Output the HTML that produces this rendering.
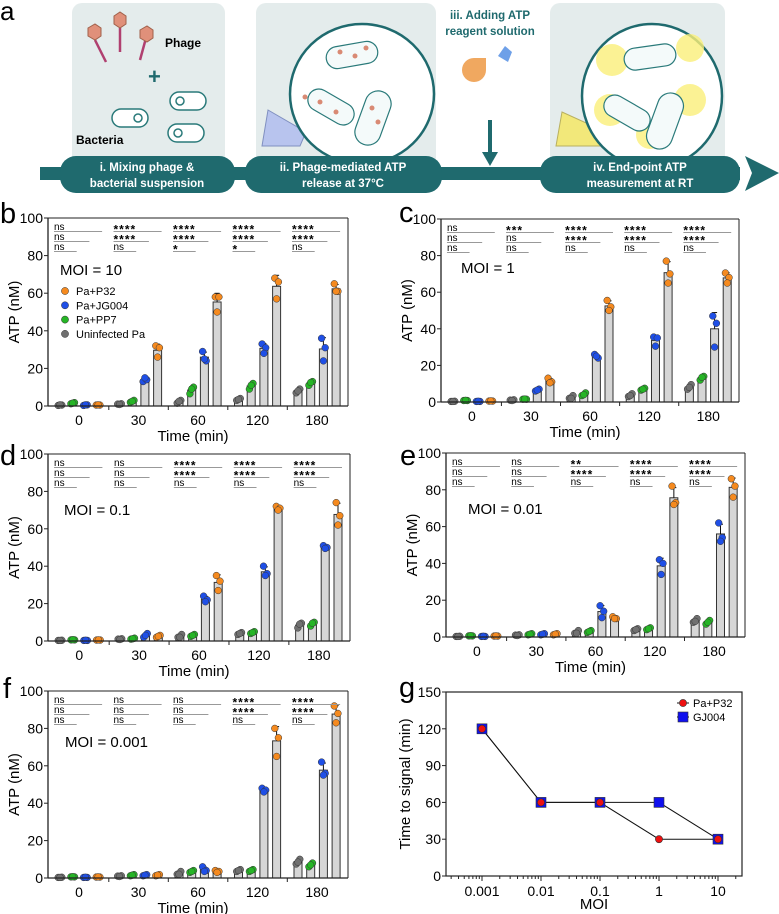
<!DOCTYPE html>
<html><head><meta charset="utf-8">
<style>
html,body{margin:0;padding:0;background:#fff;}
svg{display:block;font-family:"Liberation Sans",Arial,sans-serif;}
</style></head>
<body>
<svg id="fig" width="779" height="914" viewBox="0 0 779 914" xmlns="http://www.w3.org/2000/svg">
<g>
  <text x="0" y="20" font-size="26">a</text>
  <rect x="72" y="3" width="153" height="165" rx="10" fill="#e4ecec"/>
  <rect x="256" y="3" width="180" height="165" rx="10" fill="#e4ecec"/>
  <rect x="550" y="3" width="175" height="165" rx="10" fill="#e4ecec"/>
  <g>
    <line x1="95" y1="40" x2="106" y2="62" stroke="#b04070" stroke-width="2.5"/>
    <polygon points="88,28 95,24 101,28 101,36 95,40 88,36" fill="#e0907a" stroke="#a0604a"/>
    <line x1="120" y1="28" x2="120" y2="52" stroke="#b04070" stroke-width="2.5"/>
    <polygon points="114,16 120,12 126,16 126,24 120,28 114,24" fill="#e0907a" stroke="#a0604a"/>
    <line x1="146" y1="38" x2="140" y2="60" stroke="#b04070" stroke-width="2.5"/>
    <polygon points="140,30 147,26 153,30 153,38 147,42 140,38" fill="#e0907a" stroke="#a0604a"/>
  </g>
  <text x="165" y="47" font-size="12" font-weight="bold">Phage</text>
  <text x="148" y="84" font-size="22" font-weight="bold" fill="#1f6a6e">+</text>
  <g fill="#fff" stroke="#2a7a7a" stroke-width="1.5">
    <rect x="170" y="92" width="36" height="18" rx="9"/><circle cx="180" cy="101" r="4"/>
    <rect x="112" y="109" width="36" height="18" rx="9"/><circle cx="138" cy="118" r="4"/>
    <rect x="168" y="124" width="36" height="18" rx="9"/><circle cx="178" cy="133" r="4"/>
  </g>
  <text x="76" y="144" font-size="12" font-weight="bold">Bacteria</text>
  <polygon points="262,146 300,146 306,132 268,110" fill="#b8c4ee" stroke="#8090c0"/>
  <ellipse cx="362" cy="94" rx="72" ry="70" fill="#fff" stroke="#1f6a6e" stroke-width="2.5"/>
  <g fill="#f4fafa" stroke="#2a7a7a" stroke-width="1.2">
    <rect x="326" y="44" width="52" height="22" rx="11" transform="rotate(-10 352 55)"/>
    <rect x="360" y="90" width="26" height="56" rx="13" transform="rotate(20 373 118)"/>
    <rect x="306" y="96" width="50" height="22" rx="11" transform="rotate(30 331 107)"/>
  </g>
  <g fill="#d98a74">
    <circle cx="340" cy="52" r="2.5"/><circle cx="355" cy="56" r="2.5"/><circle cx="366" cy="48" r="2.5"/><circle cx="372" cy="108" r="2.5"/><circle cx="378" cy="122" r="2.5"/><circle cx="320" cy="102" r="2.5"/><circle cx="336" cy="112" r="2.5"/><circle cx="305" cy="97" r="2.5"/>
  </g>
  <text x="490" y="19" font-size="11.5" font-weight="bold" fill="#1f6a6e" text-anchor="middle">iii. Adding ATP</text>
  <text x="490" y="35" font-size="11.5" font-weight="bold" fill="#1f6a6e" text-anchor="middle">reagent solution</text>
  <path d="M486,58 L486,70 A12,12 0 1 1 474,58 Z" fill="#f0a860"/>
  <polygon points="505,46 512,52 508,62 498,56" fill="#6ea0e8"/>
  <line x1="490" y1="120" x2="490" y2="158" stroke="#1f6a6e" stroke-width="4"/>
  <polygon points="482,152 498,152 490,166" fill="#1f6a6e"/>
  <polygon points="556,146 600,146 606,132 562,112" fill="#f2e87a" stroke="#b8b060"/>
  <ellipse cx="652" cy="96" rx="70" ry="72" fill="#fff" stroke="#1f6a6e" stroke-width="2.5"/>
  <g fill="#fbf07a" opacity="0.8">
    <circle cx="612" cy="60" r="16"/><circle cx="690" cy="48" r="14"/><circle cx="610" cy="110" r="16"/><circle cx="690" cy="100" r="16"/><circle cx="650" cy="135" r="14"/>
  </g>
  <g fill="#f4fafa" stroke="#2a7a7a" stroke-width="1.2">
    <rect x="624" y="46" width="52" height="22" rx="11" transform="rotate(-8 650 57)"/>
    <rect x="652" y="92" width="26" height="58" rx="13" transform="rotate(20 665 121)"/>
    <rect x="602" y="102" width="50" height="22" rx="11" transform="rotate(30 627 113)"/>
  </g>
  <rect x="40" y="167" width="700" height="13" fill="#1f6a6e"/>
  <polygon points="745,156 779,173 745,191 752,173" fill="#1f6a6e"/>
  <rect x="60" y="156" width="175" height="37" rx="16" fill="#1f6a6e"/>
  <rect x="245" y="156" width="197" height="37" rx="16" fill="#1f6a6e"/>
  <rect x="540" y="156" width="200" height="37" rx="16" fill="#1f6a6e"/>
  <g fill="#fff" font-size="11.5" font-weight="bold" text-anchor="middle">
    <text x="147" y="171">i. Mixing phage &amp;</text>
    <text x="147" y="187">bacterial suspension</text>
    <text x="343" y="171">ii. Phage-mediated ATP</text>
    <text x="343" y="187">release at 37°C</text>
    <text x="640" y="171">iv. End-point ATP</text>
    <text x="640" y="187">measurement at RT</text>
  </g>
</g>
<g id="charts"></g>
</svg>
<script>
const categories = ['0','30','60','120','180'];
const seriesNames = ['Uninfected Pa','Pa+PP7','Pa+JG004','Pa+P32'];
const yTicks = [0,20,40,60,80,100];
const bReps = [
  [[0.3,0.5,0.6],[1,1.2,0.8],[1.5,3,2.5],[3,4,3.5],[7,9,8]],
  [[1.2,1.8,1.5],[2,3,2.5],[6.5,10,9],[9,12,11],[11,13,12.5]],
  [[0.3,0.6,0.6],[13,14,15],[29,24,25],[33,31,28],[36,31,24]],
  [[0.5,0.5,0.6],[32,31,26],[58,58,50],[68,66,57],[65,61,61]]
];
const cReps = [
  [[0.3,0.4,0.3],[1,1.2,0.8],[2,3.5,2],[3,4.5,3.5],[7,9.5,8]],
  [[0.8,0.8,0.9],[1.5,1.5,1.6],[3.5,5,4],[6.5,7.5,7],[12,14,13.5]],
  [[0.3,0.3,0.4],[6,7,6.5],[26,24,25],[35.5,35,30.5],[47,43,30]],
  [[0.5,0.5,0.6],[13,11,10.5],[55.5,52,50],[77,70,65],[70.5,68,65]]
];
const dReps = [
  [[0.3,0.4,0.3],[1,1.2,0.8],[2,3.5,2],[3.5,4.5,4],[7,9.5,9]],
  [[0.6,0.6,0.7],[1,1.5,1.2],[2.5,3.5,3],[4,5,4.5],[8,10,9.5]],
  [[0.3,0.3,0.4],[2,4,3],[24,22,21],[40,36,35],[51,50,49.5]],
  [[0.5,0.5,0.6],[2,3,2.5],[35,32,27],[72,71,70],[74,67,62]]
];
const eReps = [
  [[0.3,0.4,0.3],[1,1.2,0.8],[2,3.5,2],[3.5,4.5,4],[8,10,8.5]],
  [[0.6,0.6,0.7],[1.2,1.8,1.5],[2.5,3.5,3],[4,5,4.5],[7,9,8]],
  [[0.3,0.3,0.4],[1.2,1.8,1.5],[17,14,10.5],[42,40,34],[62,54,52]],
  [[0.5,0.5,0.6],[1.2,1.8,1.5],[11,10,10],[82,73,72],[86,82,76]]
];
const fReps = [
  [[0.3,0.4,0.3],[1,1.2,0.8],[2,3.5,2],[3.5,4.5,4],[7.5,10,8.5]],
  [[0.6,0.6,0.7],[1.2,1.8,1.5],[3,4,3.5],[3.5,4.5,4],[6,8,7]],
  [[0.3,0.3,0.4],[1.2,1.8,1.5],[6,4,3.5],[48,47,46],[62,56,55]],
  [[0.5,0.5,0.6],[1.2,1.8,1.5],[4,3.5,3],[80,75,65],[92,88,83]]
];
const bSig = [['ns','ns','ns'],['****','****','ns'],['****','****','*'],['****','****','*'],['****','****','ns']];
const cSig = [['ns','ns','ns'],['***','ns','ns'],['****','****','ns'],['****','****','ns'],['****','****','ns']];
const dSig = [['ns','ns','ns'],['ns','ns','ns'],['****','****','ns'],['****','****','ns'],['****','****','ns']];
const eSig = [['ns','ns','ns'],['ns','ns','ns'],['**','****','ns'],['****','****','ns'],['****','****','ns']];
const fSig = [['ns','ns','ns'],['ns','ns','ns'],['ns','ns','ns'],['****','****','ns'],['****','****','ns']];
const moiValues = [0.001,0.01,0.1,1,10];
const p32Times = [120,60,60,30,30];
const gj004Times = [120,60,60,60,30];
const gYTicks = [0,30,60,90,120,150];

const NS='http://www.w3.org/2000/svg';
const root=document.getElementById('charts');
function mk(tag,attrs,parent){const e=document.createElementNS(NS,tag);for(const k in attrs)e.setAttribute(k,attrs[k]);(parent||root).appendChild(e);return e;}
const dotCols=['#707070','#26b526','#1f4fe6','#f58a1f'];

function barPanel(P){
  const g=mk('g',{});
  
  
  const L=P.L,R=P.R,T=P.T,B=P.B,s=(R-L)/300;
  const y=v=>B-(v/100)*(B-T);
  const bx=(gi,si)=>L+(8+gi*59.5+si*12.7)*s;
  for(let si=0;si<4;si++){
    for(let gi=0;gi<5;gi++){
      const r=P.reps[si][gi];
      const m=(r[0]+r[1]+r[2])/3;
      const sd=Math.sqrt(r.reduce((a,v)=>a+(v-m)*(v-m),0)/2);
      const x=bx(gi,si);
      const bar=mk('rect',{x:x,y:y(m),width:8,height:B-y(m),fill:'#d6d6d6',stroke:'#333','stroke-width':1},g);
      
      
      const cx=x+4;
      mk('line',{x1:cx,y1:y(m),x2:cx,y2:y(m+sd),stroke:'#111','stroke-width':1},g);
      mk('line',{x1:cx-2.5,y1:y(m+sd),x2:cx+2.5,y2:y(m+sd),stroke:'#111','stroke-width':1},g);
      const jit=[-1.8,1.8,0];
      r.forEach((v,k)=>{
        const d=mk('circle',{cx:cx+jit[k],cy:y(v),r:3.4,fill:dotCols[si],stroke:'#333','stroke-width':0.5},g);
        
        
      });
    }
  }
  mk('line',{x1:L,y1:T,x2:L,y2:B,stroke:'#222','stroke-width':1.3},g);
  mk('line',{x1:L,y1:B,x2:R,y2:B,stroke:'#222','stroke-width':1.3},g);
  mk('line',{x1:L,y1:T,x2:R,y2:T,stroke:'#222','stroke-width':1},g);
  mk('line',{x1:R,y1:T,x2:R,y2:B,stroke:'#222','stroke-width':1},g);
  yTicks.forEach(v=>{
    mk('line',{x1:L-4,y1:y(v),x2:L,y2:y(v),stroke:'#222'},g);
    const t=mk('text',{x:L-5,y:y(v)+5,'font-size':14,'text-anchor':'end'},g);t.textContent=v;
    
    
  });
  categories.forEach((c,gi)=>{
    const cx=(bx(gi,0)+bx(gi,3)+8)/2;
    if(gi<4){const sx=(bx(gi,3)+8+bx(gi+1,0))/2; mk('line',{x1:sx,y1:B,x2:sx,y2:B+4,stroke:'#222'},g);}
    const t=mk('text',{x:cx,y:B+19,'font-size':14,'text-anchor':'middle'},g);t.textContent=c;
    
    
    for(let row=0;row<3;row++){
      const ty=T+12+row*10;
      const endSeries=3-row;
      const x0=bx(gi,0)-2, x1=bx(gi,endSeries)+8;
      mk('line',{x1:x0,y1:ty+1.5,x2:x1,y2:ty+1.5,stroke:'#999','stroke-width':1},g);
      const isNs=P.sig[gi][row]==='ns';
      const st=mk('text',{x:x0,y:isNs?ty:ty+3.5,'font-size':isNs?10:12,'font-weight':isNs?'normal':'bold','letter-spacing':isNs?0:1},g);
      st.textContent=P.sig[gi][row];
      
      
    }
  });
  const xt=mk('text',{x:(L+R)/2-5,y:B+35,'font-size':15,'text-anchor':'middle'},g);xt.textContent='Time (min)';
  
  
  const yt=mk('text',{x:0,y:0,'font-size':15,'text-anchor':'middle',transform:`translate(${L-29},${(T+B)/2}) rotate(-90)`},g);yt.textContent='ATP (nM)';
  
  
  const mt=mk('text',{x:P.mx,y:P.my,'font-size':15},g);mt.textContent=P.moi;
  
  
  const pl=mk('text',{x:P.lx,y:P.ly,'font-size':29},g);pl.textContent=P.id;
  
  
  if(P.legend){
    const labs=['Pa+P32','Pa+JG004','Pa+PP7','Uninfected Pa'];
    labs.forEach((lb,k)=>{
      const ly=291+k*14.3;
      const c=mk('circle',{cx:65,cy:ly,r:3.6,fill:dotCols[3-k],stroke:'#333','stroke-width':0.5},g);
      
      
      const t=mk('text',{x:76,y:ly+4,'font-size':11},g);t.textContent=lb;
      
      
    });
  }
}
barPanel({id:'b',L:48,R:348,T:218,B:406,reps:bReps,sig:bSig,moi:'MOI = 10',mx:60,my:275,lx:0,ly:223,legend:true});
barPanel({id:'c',L:441,R:739,T:219,B:402,reps:cReps,sig:cSig,moi:'MOI = 1',mx:461,my:273,lx:399,ly:222});
barPanel({id:'d',L:48,R:350,T:454,B:641,reps:dReps,sig:dSig,moi:'MOI = 0.1',mx:64,my:515,lx:0,ly:465});
barPanel({id:'e',L:446,R:745,T:453,B:637,reps:eReps,sig:eSig,moi:'MOI = 0.01',mx:468,my:514,lx:400,ly:465});
barPanel({id:'f',L:48,R:348,T:691,B:878,reps:fReps,sig:fSig,moi:'MOI = 0.001',mx:65,my:747,lx:3,ly:698});

(function(){
  const g=mk('g',{});
  
  
  const L=446,R=742,T=692,B=876;
  const x=m=>482+(Math.log10(m)+3)*59;
  const y=v=>B-(v/150)*(B-T);
  mk('rect',{x:L,y:T,width:R-L,height:B-T,fill:'none',stroke:'#222','stroke-width':1.2},g);
  gYTicks.forEach(v=>{
    mk('line',{x1:L-4,y1:y(v),x2:L,y2:y(v),stroke:'#222'},g);
    const t=mk('text',{x:L-5,y:y(v)+5,'font-size':14,'text-anchor':'end'},g);t.textContent=v;
    
    
  });
  for(let d=-4;d<=1;d++){for(let k=2;k<10;k++){const xv=x(k*Math.pow(10,d));if(xv>L&&xv<R)mk('line',{x1:xv,y1:B,x2:xv,y2:B+3,stroke:'#222'},g);}}
  moiValues.forEach(m=>{
    mk('line',{x1:x(m),y1:B,x2:x(m),y2:B+5,stroke:'#222'},g);
    const t=mk('text',{x:x(m),y:B+20,'font-size':14,'text-anchor':'middle'},g);t.textContent=String(m);
    
    
  });
  const xt=mk('text',{x:594,y:909,'font-size':15,'text-anchor':'middle'},g);xt.textContent='MOI';
  
  
  const yt=mk('text',{x:0,y:0,'font-size':15,'text-anchor':'middle',transform:`translate(${L-36},${(T+B)/2}) rotate(-90)`},g);yt.textContent='Time to signal (min)';
  
  
  const pl=mk('text',{x:399,y:697,'font-size':29},g);pl.textContent='g';
  
  
  const line=(arr,name)=>{const p=mk('polyline',{points:arr.map((v,i)=>x(moiValues[i])+','+y(v)).join(' '),fill:'none',stroke:'#111','stroke-width':1},g);
    
    };
  line(gj004Times,'gj004-line');
  line(p32Times,'p32-line');
  gj004Times.forEach((v,i)=>{const r=mk('rect',{x:x(moiValues[i])-5,y:y(v)-5,width:10,height:10,fill:'#1010ee',stroke:'#333','stroke-width':0.6},g);
    
    });
  p32Times.forEach((v,i)=>{const c=mk('circle',{cx:x(moiValues[i]),cy:y(v),r:3.6,fill:'#ee1010',stroke:'#333','stroke-width':0.6},g);
    
    });
  mk('line',{x1:677,y1:703,x2:689,y2:703,stroke:'#111'},g);
  const lc=mk('circle',{cx:683,cy:703,r:3.6,fill:'#ee1010',stroke:'#333','stroke-width':0.6},g);
  
  
  const t1=mk('text',{x:693,y:707,'font-size':11},g);t1.textContent='Pa+P32';
  
  
  mk('line',{x1:677,y1:717,x2:689,y2:717,stroke:'#111'},g);
  const ls=mk('rect',{x:678,y:712,width:10,height:10,fill:'#1010ee',stroke:'#333','stroke-width':0.6},g);
  
  
  const t2=mk('text',{x:693,y:721,'font-size':11},g);t2.textContent='GJ004';
  
  
})();
</script>
</body></html>
